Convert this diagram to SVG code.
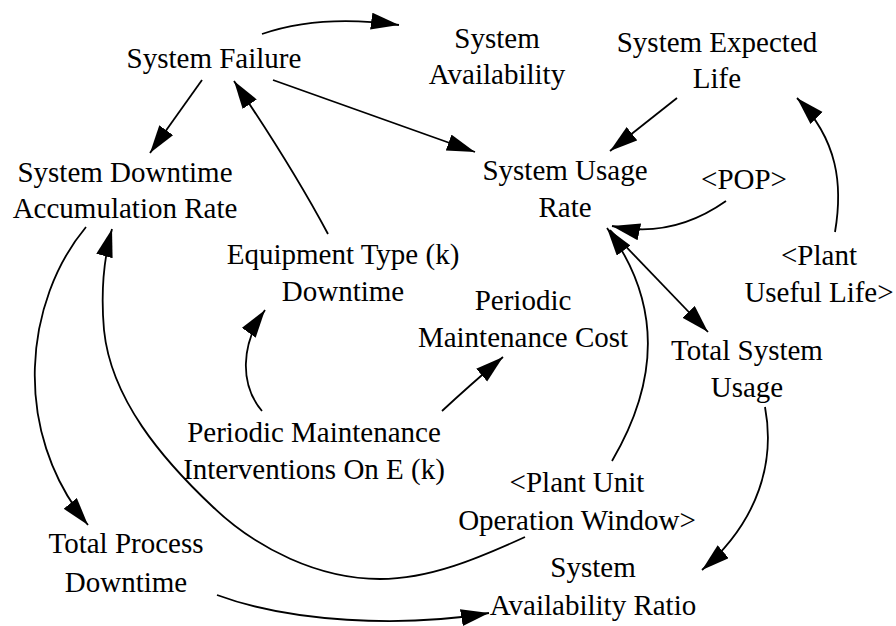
<svg xmlns="http://www.w3.org/2000/svg" width="896" height="626" viewBox="0 0 896 626">
<style>
text{font-family:"Liberation Serif","Times New Roman",serif;font-size:29px;fill:#000;text-anchor:middle}
.c{fill:none;stroke:#000;stroke-width:1.8}
</style>
<defs>
<marker id="ah" markerUnits="userSpaceOnUse" markerWidth="30" markerHeight="20" refX="28" refY="8.5" orient="auto">
<path d="M0,0 L28,8.5 L0,17 z" fill="#000"/>
</marker>
</defs>
<rect width="896" height="626" fill="#fff"/>
<g id="connectors">
<path class="c" marker-end="url(#ah)" d="M262,34 Q320,14 399,25"/>
<path class="c" marker-end="url(#ah)" d="M202,80 L150,153"/>
<path class="c" marker-end="url(#ah)" d="M328,234 Q291,165 234,81"/>
<path class="c" marker-end="url(#ah)" d="M273,80 L475,152"/>
<path class="c" marker-end="url(#ah)" d="M677,98 L610,151"/>
<path class="c" marker-end="url(#ah)" d="M726,201 Q672,239 612,226"/>
<path class="c" marker-end="url(#ah)" d="M835,232 C843,185 838,140 797,98"/>
<path class="c" marker-end="url(#ah)" d="M610,230 L708,332"/>
<path class="c" marker-end="url(#ah)" d="M612,461 C645,405 675,320 607,228"/>
<path class="c" marker-end="url(#ah)" d="M262,411 C240,385 240,345 265,310"/>
<path class="c" marker-end="url(#ah)" d="M442,411 Q470,385 503,357"/>
<path class="c" marker-end="url(#ah)" d="M86,227 C25,300 10,430 88,525"/>
<path class="c" marker-end="url(#ah)" d="M525,537 C479,558 430,579 380,579 C319,579 257,549 213,507 C162,459 111,399 104,330 C101,296 103,261 112,229"/>
<path class="c" marker-end="url(#ah)" d="M217,595 C290,622 400,628 489,613"/>
<path class="c" marker-end="url(#ah)" d="M765,407 C775,460 760,520 702,570"/>
</g>
<g id="system-failure"><text x="214" y="68">System Failure</text></g>
<g id="system-availability"><text x="497" y="48">System</text><text x="497" y="84">Availability</text></g>
<g id="system-expected-life"><text x="717" y="52">System Expected</text><text x="717" y="88">Life</text></g>
<g id="system-usage-rate"><text x="565" y="180">System Usage</text><text x="565" y="217">Rate</text></g>
<g id="pop"><text x="744" y="189">&lt;POP&gt;</text></g>
<g id="plant-useful-life"><text x="819" y="265">&lt;Plant</text><text x="819" y="302">Useful Life&gt;</text></g>
<g id="system-downtime-accumulation-rate"><text x="125" y="182">System Downtime</text><text x="125" y="218">Accumulation Rate</text></g>
<g id="equipment-type-downtime"><text x="343" y="264">Equipment Type (k)</text><text x="343" y="301">Downtime</text></g>
<g id="periodic-maintenance-cost"><text x="523" y="310">Periodic</text><text x="523" y="347">Maintenance Cost</text></g>
<g id="periodic-maintenance-interventions"><text x="314" y="442">Periodic Maintenance</text><text x="314" y="479">Interventions On E (k)</text></g>
<g id="total-system-usage"><text x="747" y="360">Total System</text><text x="747" y="397">Usage</text></g>
<g id="plant-unit-operation-window"><text x="577" y="492">&lt;Plant Unit</text><text x="577" y="530">Operation Window&gt;</text></g>
<g id="system-availability-ratio"><text x="593" y="577">System</text><text x="593" y="615">Availability Ratio</text></g>
<g id="total-process-downtime"><text x="126" y="553">Total Process</text><text x="126" y="592">Downtime</text></g>
</svg>
